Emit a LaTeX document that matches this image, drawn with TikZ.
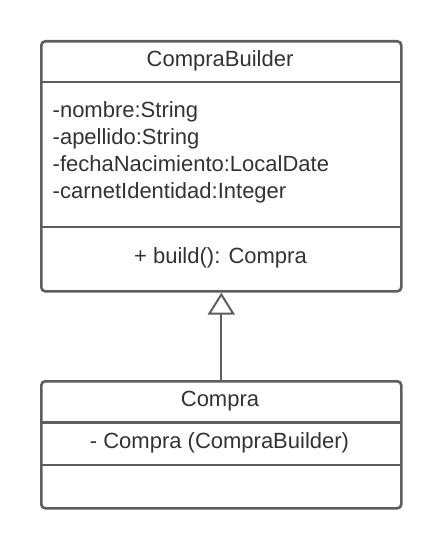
\documentclass[tikz,border=0pt]{standalone}
\usepackage{fontspec}
\setmainfont{Liberation Sans}
\usetikzlibrary{arrows.meta}
\definecolor{umlline}{HTML}{5E5E5E}
\definecolor{umltext}{HTML}{333333}
\begin{document}
\begin{tikzpicture}[x=1pt,y=-1pt,
  box/.style={draw=umlline, line width=2.6pt, rounded corners=4pt, fill=white},
  sep/.style={draw=umlline, line width=2.6pt},
  txt/.style={inner sep=0pt, text=umltext, font=\fontsize{22}{26.7}\selectfont},
  gen/.style={draw=umlline, line width=2pt, -{Triangle[open, length=22pt, width=27pt, line width=2pt, fill=white]}}]
\useasboundingbox (0,0) rectangle (440,548);
% CompraBuilder class
\node[box, minimum width=360pt, minimum height=250pt, anchor=north west, inner sep=0pt] (cb) at (40,40) {};
\coordinate (cbL1) at (40,82); \coordinate (cbR1) at (400,82);
\coordinate (cbL2) at (40,227); \coordinate (cbR2) at (400,227);
\draw[sep] (cbL1) -- (cbR1);
\draw[sep] (cbL2) -- (cbR2);
\node[txt, anchor=base] (cbname) at (220,66.7) {CompraBuilder};
\node[txt, anchor=base west] (a1) at (52.5,118) {-nombre:String};
\node[txt, anchor=base west] (a2) at (52.5,145) {-apellido:String};
\node[txt, anchor=base west] (a3) at (52.5,171.7) {-fechaNacimiento:LocalDate};
\node[txt, anchor=base west] (a4) at (52.5,198.3) {-carnetIdentidad:Integer};
\node[txt, anchor=base] (m1) at (220.5,263) {+ build(): Compra};
% Compra class
\node[box, minimum width=360pt, minimum height=127pt, anchor=north west, inner sep=0pt] (c) at (40,380) {};
\coordinate (cL1) at (40,422.5); \coordinate (cR1) at (400,422.5);
\coordinate (cL2) at (40,465); \coordinate (cR2) at (400,465);
\draw[sep] (cL1) -- (cR1);
\draw[sep] (cL2) -- (cR2);
\node[txt, anchor=base] (cname) at (220,406.7) {Compra};
\node[txt, anchor=base] (cm1) at (219.5,448) {- Compra (CompraBuilder)};
% generalization
\draw[gen] (c.north) -- (cb.south);
\end{tikzpicture}
\end{document}
